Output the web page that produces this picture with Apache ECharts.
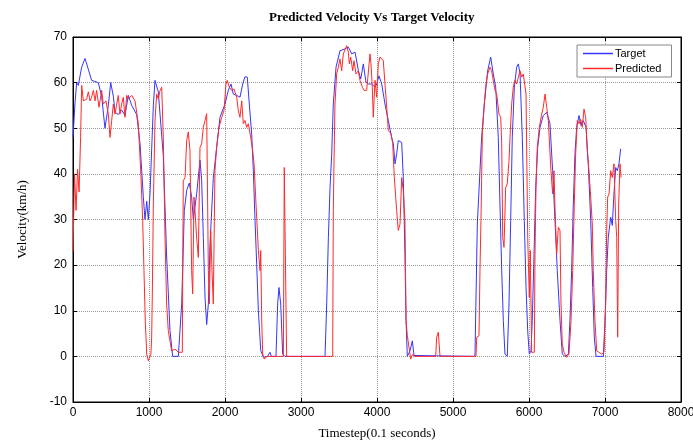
<!DOCTYPE html>
<html>
<head>
<meta charset="utf-8">
<script src="https://cdn.jsdelivr.net/npm/echarts@6/dist/echarts.min.js"></script>
<style>html,body{margin:0;padding:0;background:#fff;}#c{width:693px;height:443px;}</style>
</head>
<body>
<div id="c"></div>
<script>
var titleText = 'Predicted Velocity Vs Target Velocity';
var xAxisName = 'Timestep(0.1 seconds)';
var yAxisName = 'Velocity(km/h)';
var seriesNames = ['Target', 'Predicted'];
var seriesColors = ['#3535ff', '#ff2a2a'];

var targetTime = [0,26,48,70,114,158,200,245,333,377,421,465,496,531,553,597,640,684,728,772,838,882,925,947,970,991,1013,1057,1079,1122,1188,1232,1276,1311,1386,1430,1465,1496,1531,1561,1583,1627,1671,1693,1715,1737,1759,1781,1803,1846,1890,1934,2000,2043,2079,2109,2154,2197,2233,2263,2293,2320,2351,2373,2395,2417,2439,2470,2505,2560,2592,2610,2671,2693,2710,2733,2759,2789,3316,3338,3360,3382,3404,3425,3461,3513,3579,3623,3667,3711,3754,3786,3820,3855,3886,3930,3974,3996,4026,4062,4105,4149,4193,4215,4237,4259,4280,4325,4346,4368,4382,4399,4434,4465,4487,4500,5289,5320,5355,5377,5412,5456,5496,5530,5562,5596,5618,5641,5662,5684,5714,5737,5759,5780,5807,5838,5860,5882,5912,5938,5961,5983,6004,6026,6043,6066,6088,6114,6145,6188,6233,6276,6311,6342,6372,6408,6438,6474,6518,6539,6561,6583,6605,6627,6658,6684,6714,6750,6780,6812,6838,6859,6882,6978,7000,7022,7043,7075,7096,7118,7141,7162,7184,7206];
var targetVel = [48,55.4,60,59.4,63.4,65.3,63,60.5,60,57,50,55,60,57,53.5,53,54,52.8,57.2,55,53,46.6,35,30,34,30,35.6,55,60.5,58,44,22,5.7,0,0,11.5,32,36.4,38,35,30,35.6,43,38.6,26,13,7,11.5,24.6,39,45.8,52.4,55.3,58.3,59.7,57.5,57.2,56.8,59.7,61.3,61.2,55.3,48.7,40.7,29.8,20.2,10,1.3,-0.2,0,0.9,0,0,11.5,15.1,11.5,0.5,0,0,11.5,26,37,44.4,55.3,63.4,67,67.4,67.8,66.3,66.7,62.7,60.8,64.1,60.1,59.7,59.7,59,59.7,61.5,59.7,55.3,51.7,48,46.6,42.2,44.4,47.3,46.9,39.2,22.4,7.9,0,1.2,3.4,0.2,0,0,29,40.7,48,55.3,62.6,65.6,61.9,59,48,33.4,18.8,7.9,0.5,0,11.5,29.8,48,59,63.4,64.1,61.9,48,29.8,15.1,5.6,0.5,1.2,7.9,22.4,37,45.8,50.2,52.8,53.5,51,40.7,29.8,18.8,7.9,0.5,0,0.5,7.9,18.8,33.4,44.4,50.2,52.8,50.6,51.7,50.2,42.2,29.8,15.1,4.2,0,0,7.9,18.8,26.1,30.5,28.7,35.6,41.4,40.7,42.2,45.5];

var predTime = [0,20,40,60,80,100,114,136,180,202,224,245,268,290,311,342,377,399,434,465,487,509,531,553,575,596,618,640,662,684,706,728,772,816,859,891,917,934,951,970,991,1013,1025,1035,1045,1057,1079,1101,1122,1145,1167,1188,1211,1232,1254,1298,1342,1386,1438,1451,1474,1496,1517,1539,1561,1575,1592,1605,1627,1649,1671,1693,1715,1737,1759,1770,1781,1794,1812,1829,1846,1868,1890,1921,1957,1987,2013,2030,2057,2088,2118,2154,2175,2197,2220,2241,2263,2285,2307,2338,2364,2382,2408,2439,2461,2470,2483,2496,2517,2549,2768,2780,2798,2811,3417,3425,3434,3447,3469,3491,3513,3535,3557,3579,3601,3623,3636,3654,3680,3697,3724,3754,3776,3807,3829,3864,3886,3908,3921,3938,3951,3974,3996,4017,4039,4062,4083,4105,4128,4149,4184,4207,4228,4259,4280,4303,4325,4346,4368,4382,4399,4421,4443,4465,4500,4772,4785,4807,4829,5303,5312,5342,5355,5368,5386,5412,5430,5456,5487,5509,5530,5553,5575,5605,5628,5641,5654,5671,5693,5714,5737,5750,5772,5793,5816,5838,5860,5882,5904,5925,5947,5961,5983,6004,6017,6035,6070,6079,6092,6109,6136,6167,6188,6211,6233,6254,6289,6311,6329,6342,6364,6386,6408,6421,6438,6461,6496,6526,6553,6575,6596,6614,6636,6658,6680,6701,6724,6746,6767,6789,6812,6833,6846,6868,6891,6911,6957,6987,7009,7022,7035,7053,7075,7096,7118,7141,7154,7167,7180,7197,7211];
var predVel = [23,40,32,41,36,48,59.4,56,56.4,58,56,56.8,58.3,56,58.3,54.6,58.3,55.3,56,53.1,48,51.7,55.3,53.1,55.3,57.2,53.1,55.3,56.8,52.4,57.2,56.4,57.2,56,51,40.7,29.8,18.8,7.8,0.5,-1,-1.3,0.5,4.2,15,33.4,51.7,57.5,56.4,58.3,59,48,26,11.5,5.6,1.2,1.6,0.9,0.9,38.5,39.2,47.3,49.2,45.1,18.8,13.7,34.9,32,26,21.7,45.8,46.6,50.2,51.7,53.2,53.1,18.8,11.5,27.6,18.8,11.5,40.7,45.8,50.2,52.4,53.9,59.7,60.5,59,58.3,58.6,56.8,53.9,52.4,56,51,51.7,50.2,51,48,45.1,42.2,33.4,23.2,18.8,23.2,7.8,0.5,-0.6,0,0,41.4,41.8,0,0,32,42.2,55.3,61.9,63.4,65.2,62.6,66.3,66.7,68.1,66.7,64.1,65.6,62.6,64.8,61.9,62.6,60.5,59,58.3,58.3,57.9,66.3,64.1,59,52.4,60.5,56.8,64.1,65.6,65.2,64.8,59.7,54.6,49.5,48.8,46.6,39.2,32,27.6,29,39.2,36.3,29.8,7.8,4.6,4.6,-0.6,0.4,0,0,4.2,5.3,0,0,4.2,4.5,18.8,29.8,48.8,55.3,59,61.9,63.4,62.6,60.5,58.3,57.5,53.1,52.4,46.6,26.1,23.9,37,37.8,42.9,48,55.3,59,60.5,59.7,61.2,62.6,61.2,61.9,61.9,57.5,26.1,12.9,23.2,0.9,0.9,22.4,37,45.8,50.2,53.1,54.6,57.5,54.6,51.7,40.7,35.6,40.7,32.7,22.4,28.3,27.6,11.5,2.7,0.9,-0.2,0.5,7.8,18.8,33.4,44.4,51.7,51,52,50.2,54.2,52.4,45.1,40.7,34.9,29,18.8,7.8,1.2,0.9,0.5,0.9,11.5,27.6,34.9,35.6,40.7,39.2,42.2,29.8,26.1,4.2,33.4,42.2,39.2];

function zip(a, b) { var r = []; for (var i = 0; i < a.length; i++) r.push([a[i], b[i]]); return r; }
function plain(v) { return String(v); }

var chart = echarts.init(document.getElementById('c'), null, {renderer: 'canvas'});
var tickFont = {color: '#000', fontSize: 12, fontFamily: 'Liberation Sans, Arial, sans-serif', formatter: plain};
var nameFont = {color: '#000', fontSize: 13, fontFamily: 'Liberation Serif, Times New Roman, serif'};
chart.setOption({
  animation: false,
  backgroundColor: '#fff',
  title: {
    text: titleText, left: 264, top: 6,
    textStyle: {fontSize: 13, fontWeight: 'bold', color: '#000', fontFamily: 'Liberation Serif, Times New Roman, serif'}
  },
  legend: {
    data: [
      {name: seriesNames[0], icon: 'rect', itemStyle: {color: seriesColors[0], borderWidth: 0, borderColor: seriesColors[0]}},
      {name: seriesNames[1], icon: 'rect', itemStyle: {color: seriesColors[1], borderWidth: 0, borderColor: seriesColors[1]}}
    ],
    orient: 'vertical', left: 577, top: 45,
    itemWidth: 30, itemHeight: 1.5, itemGap: 4,
    padding: [3, 10, 3, 6],
    backgroundColor: '#fff', borderColor: '#888', borderWidth: 1, borderRadius: 0,
    textStyle: {fontSize: 11, color: '#000', fontFamily: 'Liberation Sans, Arial, sans-serif', padding: [0,0,0,-3]}
  },
  grid: {left: 73, right: 12, top: 37, bottom: 41, containLabel: false, outerBoundsMode: 'none',
         show: true, borderColor: '#000', borderWidth: 1, backgroundColor: 'transparent'},
  xAxis: [{
    type: 'value', min: 0, max: 8000, interval: 1000, position: 'bottom',
    name: xAxisName, nameLocation: 'middle', nameGap: 25, nameTextStyle: nameFont,
    axisLine: {show: true, onZero: false, lineStyle: {color: '#000'}},
    axisTick: {show: true, inside: true, length: 4, lineStyle: {color: '#000'}},
    axisLabel: Object.assign({margin: 5}, tickFont),
    splitLine: {show: true, lineStyle: {color: '#999', type: 'dotted', width: 1}}
  }, {
    type: 'value', min: 0, max: 8000, interval: 1000, position: 'top',
    axisLine: {show: true, onZero: false, lineStyle: {color: '#000'}},
    axisTick: {show: true, inside: true, length: 4, lineStyle: {color: '#000'}},
    axisLabel: {show: false}, splitLine: {show: false}
  }],
  yAxis: [{
    type: 'value', min: -10, max: 70, interval: 10, position: 'left',
    name: yAxisName, nameLocation: 'middle', nameGap: 44, nameTextStyle: nameFont,
    axisLine: {show: true, onZero: false, lineStyle: {color: '#000'}},
    axisTick: {show: true, inside: true, length: 4, lineStyle: {color: '#000'}},
    axisLabel: Object.assign({margin: 6}, tickFont),
    splitLine: {show: true, lineStyle: {color: '#999', type: 'dotted', width: 1}}
  }, {
    type: 'value', min: -10, max: 70, interval: 10, position: 'right',
    axisLine: {show: true, onZero: false, lineStyle: {color: '#000'}},
    axisTick: {show: true, inside: true, length: 4, lineStyle: {color: '#000'}},
    axisLabel: {show: false}, splitLine: {show: false}
  }],
  series: [{
    name: seriesNames[0], type: 'line', data: zip(targetTime, targetVel),
    showSymbol: false, symbol: 'none', color: seriesColors[0],
    itemStyle: {color: seriesColors[0]},
    lineStyle: {width: 1, color: seriesColors[0]}, z: 2
  }, {
    name: seriesNames[1], type: 'line', data: zip(predTime, predVel),
    showSymbol: false, symbol: 'none', color: seriesColors[1],
    itemStyle: {color: seriesColors[1]},
    lineStyle: {width: 1, color: seriesColors[1]}, z: 3
  }]
});
</script>
</body>
</html>
